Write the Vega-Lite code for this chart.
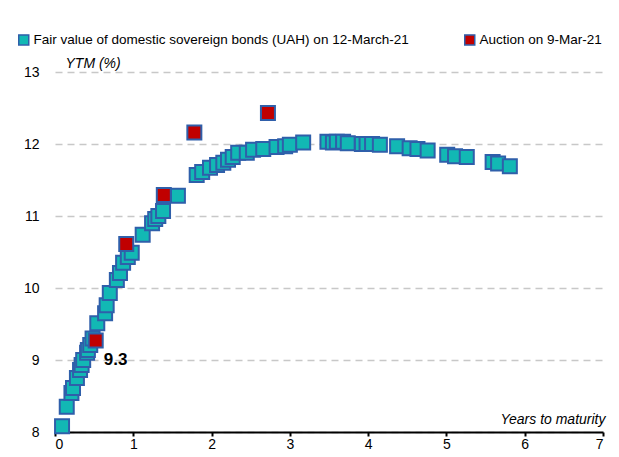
{
  "$schema": "https://vega.github.io/schema/vega-lite/v6.json",
  "width": 548,
  "height": 360,
  "autosize": {"type": "none"},
  "padding": {"left": 55, "top": 72, "right": 16, "bottom": 25},
  "background": "white",
  "config": {
    "view": {"stroke": null},
    "font": "Liberation Sans, Arial, sans-serif"
  },
  "datasets": {
    "pts": [
      {"m": 0.09, "ytm": 8.08, "s": "Fair value of domestic sovereign bonds (UAH) on 12-March-21"},
      {"m": 0.15, "ytm": 8.35, "s": "Fair value of domestic sovereign bonds (UAH) on 12-March-21"},
      {"m": 0.21, "ytm": 8.54, "s": "Fair value of domestic sovereign bonds (UAH) on 12-March-21"},
      {"m": 0.23, "ytm": 8.61, "s": "Fair value of domestic sovereign bonds (UAH) on 12-March-21"},
      {"m": 0.28, "ytm": 8.75, "s": "Fair value of domestic sovereign bonds (UAH) on 12-March-21"},
      {"m": 0.32, "ytm": 8.86, "s": "Fair value of domestic sovereign bonds (UAH) on 12-March-21"},
      {"m": 0.34, "ytm": 8.93, "s": "Fair value of domestic sovereign bonds (UAH) on 12-March-21"},
      {"m": 0.36, "ytm": 9.0, "s": "Fair value of domestic sovereign bonds (UAH) on 12-March-21"},
      {"m": 0.41, "ytm": 9.1, "s": "Fair value of domestic sovereign bonds (UAH) on 12-March-21"},
      {"m": 0.42, "ytm": 9.14, "s": "Fair value of domestic sovereign bonds (UAH) on 12-March-21"},
      {"m": 0.45, "ytm": 9.21, "s": "Fair value of domestic sovereign bonds (UAH) on 12-March-21"},
      {"m": 0.48, "ytm": 9.3, "s": "Fair value of domestic sovereign bonds (UAH) on 12-March-21"},
      {"m": 0.54, "ytm": 9.51, "s": "Fair value of domestic sovereign bonds (UAH) on 12-March-21"},
      {"m": 0.64, "ytm": 9.65, "s": "Fair value of domestic sovereign bonds (UAH) on 12-March-21"},
      {"m": 0.66, "ytm": 9.76, "s": "Fair value of domestic sovereign bonds (UAH) on 12-March-21"},
      {"m": 0.70, "ytm": 9.93, "s": "Fair value of domestic sovereign bonds (UAH) on 12-March-21"},
      {"m": 0.79, "ytm": 10.11, "s": "Fair value of domestic sovereign bonds (UAH) on 12-March-21"},
      {"m": 0.83, "ytm": 10.21, "s": "Fair value of domestic sovereign bonds (UAH) on 12-March-21"},
      {"m": 0.87, "ytm": 10.35, "s": "Fair value of domestic sovereign bonds (UAH) on 12-March-21"},
      {"m": 0.93, "ytm": 10.43, "s": "Fair value of domestic sovereign bonds (UAH) on 12-March-21"},
      {"m": 0.98, "ytm": 10.49, "s": "Fair value of domestic sovereign bonds (UAH) on 12-March-21"},
      {"m": 1.12, "ytm": 10.74, "s": "Fair value of domestic sovereign bonds (UAH) on 12-March-21"},
      {"m": 1.24, "ytm": 10.9, "s": "Fair value of domestic sovereign bonds (UAH) on 12-March-21"},
      {"m": 1.28, "ytm": 10.96, "s": "Fair value of domestic sovereign bonds (UAH) on 12-March-21"},
      {"m": 1.32, "ytm": 11.0, "s": "Fair value of domestic sovereign bonds (UAH) on 12-March-21"},
      {"m": 1.38, "ytm": 11.07, "s": "Fair value of domestic sovereign bonds (UAH) on 12-March-21"},
      {"m": 1.57, "ytm": 11.28, "s": "Fair value of domestic sovereign bonds (UAH) on 12-March-21"},
      {"m": 1.81, "ytm": 11.57, "s": "Fair value of domestic sovereign bonds (UAH) on 12-March-21"},
      {"m": 1.88, "ytm": 11.61, "s": "Fair value of domestic sovereign bonds (UAH) on 12-March-21"},
      {"m": 1.98, "ytm": 11.67, "s": "Fair value of domestic sovereign bonds (UAH) on 12-March-21"},
      {"m": 2.07, "ytm": 11.71, "s": "Fair value of domestic sovereign bonds (UAH) on 12-March-21"},
      {"m": 2.15, "ytm": 11.74, "s": "Fair value of domestic sovereign bonds (UAH) on 12-March-21"},
      {"m": 2.21, "ytm": 11.78, "s": "Fair value of domestic sovereign bonds (UAH) on 12-March-21"},
      {"m": 2.27, "ytm": 11.82, "s": "Fair value of domestic sovereign bonds (UAH) on 12-March-21"},
      {"m": 2.34, "ytm": 11.88, "s": "Fair value of domestic sovereign bonds (UAH) on 12-March-21"},
      {"m": 2.45, "ytm": 11.88, "s": "Fair value of domestic sovereign bonds (UAH) on 12-March-21"},
      {"m": 2.53, "ytm": 11.92, "s": "Fair value of domestic sovereign bonds (UAH) on 12-March-21"},
      {"m": 2.66, "ytm": 11.93, "s": "Fair value of domestic sovereign bonds (UAH) on 12-March-21"},
      {"m": 2.83, "ytm": 11.96, "s": "Fair value of domestic sovereign bonds (UAH) on 12-March-21"},
      {"m": 2.94, "ytm": 11.97, "s": "Fair value of domestic sovereign bonds (UAH) on 12-March-21"},
      {"m": 3.00, "ytm": 11.99, "s": "Fair value of domestic sovereign bonds (UAH) on 12-March-21"},
      {"m": 3.17, "ytm": 12.02, "s": "Fair value of domestic sovereign bonds (UAH) on 12-March-21"},
      {"m": 3.48, "ytm": 12.03, "s": "Fair value of domestic sovereign bonds (UAH) on 12-March-21"},
      {"m": 3.55, "ytm": 12.02, "s": "Fair value of domestic sovereign bonds (UAH) on 12-March-21"},
      {"m": 3.60, "ytm": 12.03, "s": "Fair value of domestic sovereign bonds (UAH) on 12-March-21"},
      {"m": 3.68, "ytm": 12.03, "s": "Fair value of domestic sovereign bonds (UAH) on 12-March-21"},
      {"m": 3.74, "ytm": 12.01, "s": "Fair value of domestic sovereign bonds (UAH) on 12-March-21"},
      {"m": 3.92, "ytm": 12.0, "s": "Fair value of domestic sovereign bonds (UAH) on 12-March-21"},
      {"m": 3.98, "ytm": 12.0, "s": "Fair value of domestic sovereign bonds (UAH) on 12-March-21"},
      {"m": 4.05, "ytm": 12.0, "s": "Fair value of domestic sovereign bonds (UAH) on 12-March-21"},
      {"m": 4.15, "ytm": 11.99, "s": "Fair value of domestic sovereign bonds (UAH) on 12-March-21"},
      {"m": 4.37, "ytm": 11.97, "s": "Fair value of domestic sovereign bonds (UAH) on 12-March-21"},
      {"m": 4.53, "ytm": 11.94, "s": "Fair value of domestic sovereign bonds (UAH) on 12-March-21"},
      {"m": 4.63, "ytm": 11.93, "s": "Fair value of domestic sovereign bonds (UAH) on 12-March-21"},
      {"m": 4.76, "ytm": 11.91, "s": "Fair value of domestic sovereign bonds (UAH) on 12-March-21"},
      {"m": 5.01, "ytm": 11.85, "s": "Fair value of domestic sovereign bonds (UAH) on 12-March-21"},
      {"m": 5.11, "ytm": 11.83, "s": "Fair value of domestic sovereign bonds (UAH) on 12-March-21"},
      {"m": 5.26, "ytm": 11.82, "s": "Fair value of domestic sovereign bonds (UAH) on 12-March-21"},
      {"m": 5.59, "ytm": 11.75, "s": "Fair value of domestic sovereign bonds (UAH) on 12-March-21"},
      {"m": 5.66, "ytm": 11.73, "s": "Fair value of domestic sovereign bonds (UAH) on 12-March-21"},
      {"m": 5.81, "ytm": 11.69, "s": "Fair value of domestic sovereign bonds (UAH) on 12-March-21"},
      {"m": 0.52, "ytm": 9.27, "s": "Auction on 9-Mar-21"},
      {"m": 0.91, "ytm": 10.61, "s": "Auction on 9-Mar-21"},
      {"m": 1.39, "ytm": 11.29, "s": "Auction on 9-Mar-21"},
      {"m": 1.78, "ytm": 12.16, "s": "Auction on 9-Mar-21"},
      {"m": 2.72, "ytm": 12.43, "s": "Auction on 9-Mar-21"}
    ],
    "lab": [{"m": 0.52, "ytm": 9.27, "t": "9.3"}]
  },
  "layer": [
    {
      "data": {"name": "pts"},
      "mark": {"type": "point", "shape": "square", "filled": true, "size": 196, "stroke": "#2F5FAA", "strokeWidth": 2, "opacity": 1},
      "encoding": {
        "x": {
          "field": "m", "type": "quantitative",
          "scale": {"domain": [0, 7], "nice": false, "zero": false},
          "axis": {
            "values": [0, 1, 2, 3, 4, 5, 6, 7], "format": "d",
            "grid": false,
            "domainColor": "#000000", "domainWidth": 2,
            "tickColor": "#000000", "tickSize": 4, "tickWidth": 2,
            "labelFontSize": 14, "labelColor": "#000000", "labelPadding": 1,
            "title": "Years to maturity",
            "titleFontStyle": "italic", "titleFontWeight": "normal", "titleFontSize": 14, "titleColor": "#000000",
            "titleAngle": 0, "titleAlign": "right", "titleBaseline": "bottom",
            "titleX": 550, "titleY": -6
          }
        },
        "y": {
          "field": "ytm", "type": "quantitative",
          "scale": {"domain": [8, 13], "nice": false, "zero": false},
          "axis": {
            "values": [8, 9, 10, 11, 12, 13], "format": "d",
            "domain": false, "ticks": false,
            "grid": true, "gridColor": "#c8c8c8", "gridDash": [7, 5], "gridWidth": 1.5,
            "labelFontSize": 14, "labelColor": "#000000", "labelPadding": 16, "labelAlign": "right",
            "title": "YTM (%)",
            "titleFontStyle": "italic", "titleFontWeight": "normal", "titleFontSize": 14, "titleColor": "#000000",
            "titleAngle": 0, "titleAlign": "left", "titleBaseline": "bottom",
            "titleX": 10, "titleY": -2
          }
        },
        "fill": {
          "field": "s", "type": "nominal",
          "scale": {
            "domain": ["Fair value of domestic sovereign bonds (UAH) on 12-March-21", "Auction on 9-Mar-21"],
            "range": ["#12B8B4", "#C00000"]
          },
          "legend": {
            "title": null, "orient": "none", "direction": "horizontal",
            "legendX": -38, "legendY": -39,
            "symbolType": "square", "symbolSize": 100, "symbolStrokeColor": "#2F5FAA", "symbolStrokeWidth": 1.5,
            "labelFontSize": 13.5, "labelColor": "#000000", "labelOffset": 3, "labelLimit": 0, "columnPadding": 52
          }
        },
        "order": {"field": "s", "type": "nominal", "sort": "descending"}
      }
    },
    {
      "data": {"name": "lab"},
      "mark": {"type": "text", "align": "left", "baseline": "middle", "dx": 8, "dy": 19, "fontSize": 17, "fontWeight": "bold", "color": "#000000"},
      "encoding": {
        "x": {"field": "m", "type": "quantitative"},
        "y": {"field": "ytm", "type": "quantitative"},
        "text": {"field": "t"}
      }
    }
  ]
}
